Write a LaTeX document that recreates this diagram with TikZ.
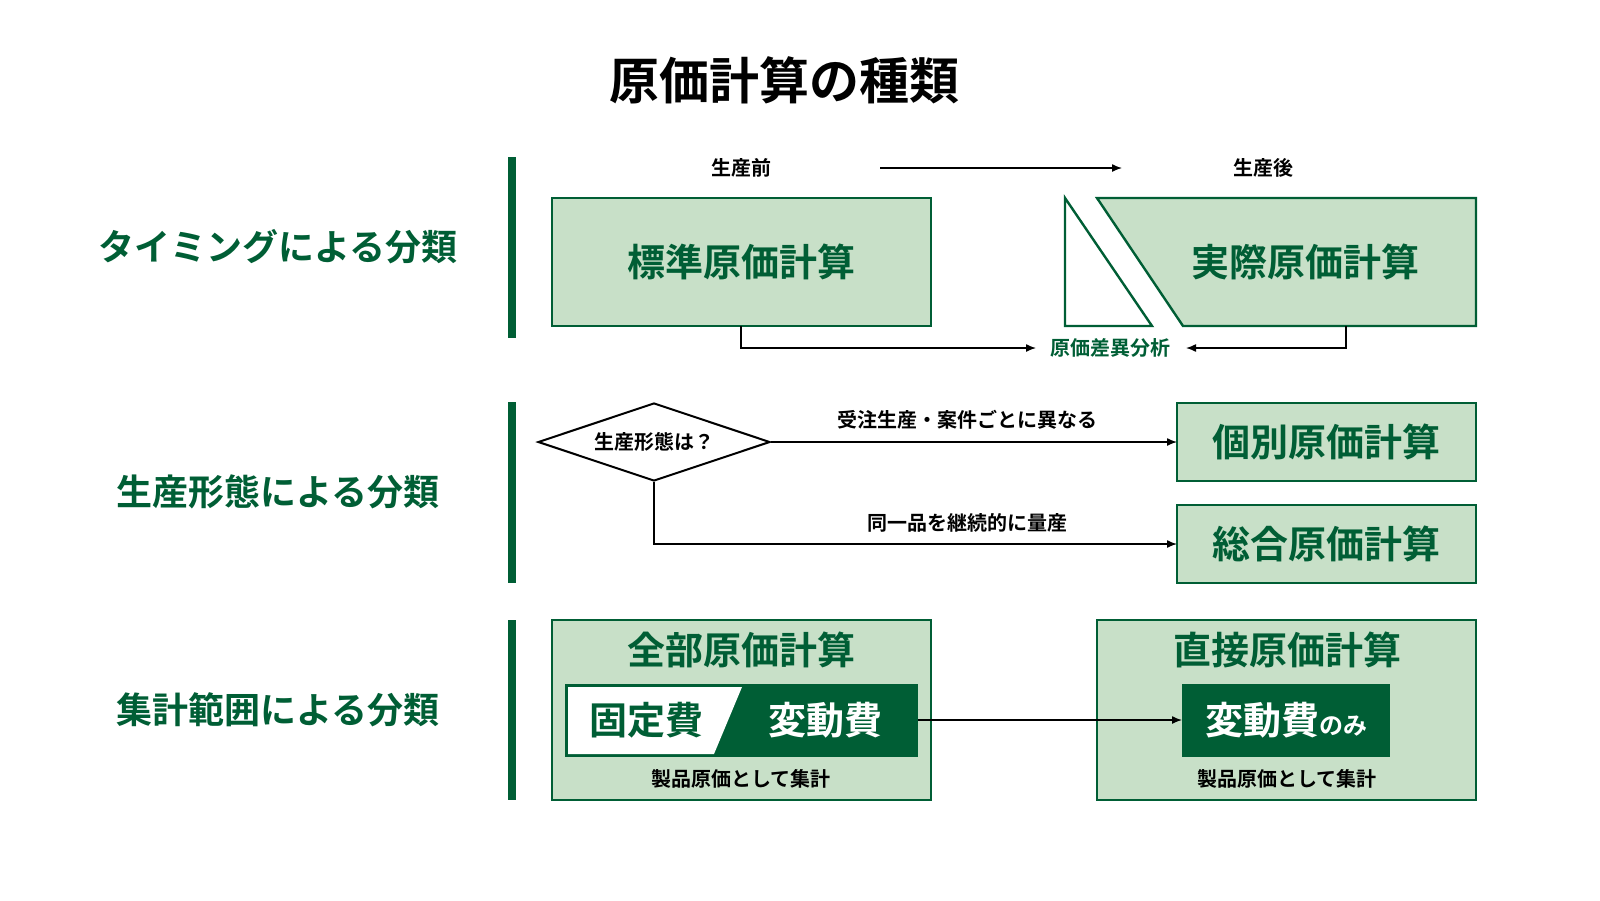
\documentclass[tikz,border=0pt]{standalone}
\usepackage{fontspec}
\setmainfont{Noto Sans CJK JP}[BoldFont={* Bold}]
\usetikzlibrary{arrows.meta,shapes.geometric}
\definecolor{dg}{HTML}{005E35}
\definecolor{lg}{HTML}{C8E0C8}
\begin{document}
\begin{tikzpicture}[x=0.5pt,y=-0.5pt,
  box/.style={draw=dg,fill=lg,line width=1.2pt},
  cat/.style={font=\bfseries\fontsize{18}{20}\selectfont,text=dg},
  big/.style={font=\bfseries\fontsize{19}{22}\selectfont,text=dg},
  sm/.style={font=\bfseries\fontsize{10}{12}\selectfont},
  arr/.style={draw=black,line width=0.7pt,-{Latex[length=5pt,width=4pt]}}]
\node[font=\bfseries\fontsize{25}{28}\selectfont] (title) at (784,80) {原価計算の種類};
% bars
\fill[dg] (508,157) rectangle (516,338);
\fill[dg] (508,402) rectangle (516,583);
\fill[dg] (508,620) rectangle (516,800);
\node[cat] (c1) at (278,247) {タイミングによる分類};
\node[cat] (c2) at (278,492) {生産形態による分類};
\node[cat] (c3) at (278,710) {集計範囲による分類};
% row 1
\node[sm] (pre) at (741,168) {生産前};
\node[sm] (post) at (1263,168) {生産後};
\coordinate (a1) at (880,168); \coordinate (a2) at (1122,168);
\draw[arr] (a1) -- (a2);
\draw[box] (552,198) rectangle (931,326);
\node[big] (std) at (741,262) {標準原価計算};
\draw[box] (1097,198) -- (1476,198) -- (1476,326) -- (1183,326) -- cycle;
\draw[draw=dg,fill=white,line width=1.2pt] (1065,198) -- (1065,326) -- (1152,326) -- cycle;
\node[big] (act) at (1305,262) {実際原価計算};
\node[sm,text=dg] (var) at (1110,348) {原価差異分析};
\coordinate (s1) at (741,326); \coordinate (s2) at (1346,326);
\draw[arr] (s1) |- ([xshift=-37pt]var.center);
\draw[arr] (s2) |- ([xshift=38pt]var.center);
% row 2
\node[draw=black,fill=white,diamond,aspect=3,line width=1pt,minimum width=116pt,minimum height=39pt,inner sep=0pt,sm] (dia) at (654,442) {生産形態は？};
\draw[box] (1177,403) rectangle (1476,481);
\node[big] (ko) at (1326,442) {個別原価計算};
\draw[box] (1177,505) rectangle (1476,583);
\node[big] (so) at (1326,544) {総合原価計算};
\coordinate (k1) at (1177,442); \coordinate (k2) at (1177,544);
\draw[arr] (dia.east) -- (k1);
\draw[arr] (dia.south) |- (k2);
\node[sm] (l1) at (967,420) {受注生産・案件ごとに異なる};
\node[sm] (l2) at (967,523) {同一品を継続的に量産};
% row 3
\draw[box] (552,620) rectangle (931,800);
\node[big] (zen) at (741,650) {全部原価計算};
\fill[dg] (565,684) rectangle (918,757);
\fill[white] (568,687) -- (742,687) -- (714,754) -- (568,754) -- cycle;
\node[big] (kotei) at (646,720) {固定費};
\node[big,text=white] (hendo) at (825,720) {変動費};
\node[sm] (t1) at (741,779) {製品原価として集計};
\draw[box] (1097,620) rectangle (1476,800);
\node[big] (choku) at (1287,650) {直接原価計算};
\fill[dg] (1182,684) rectangle (1390,757);
\node[big,text=white] (hendo2) at (1286,720) {変動費{\fontsize{12}{14}\selectfont のみ}};
\node[sm] (t2) at (1287,779) {製品原価として集計};
\coordinate (b1) at (918,720); \coordinate (b2) at (1182,720);
\draw[arr] (b1) -- (b2);
\pgfresetboundingbox
\useasboundingbox (0,0) rectangle (1600,900);
\end{tikzpicture}
\end{document}
